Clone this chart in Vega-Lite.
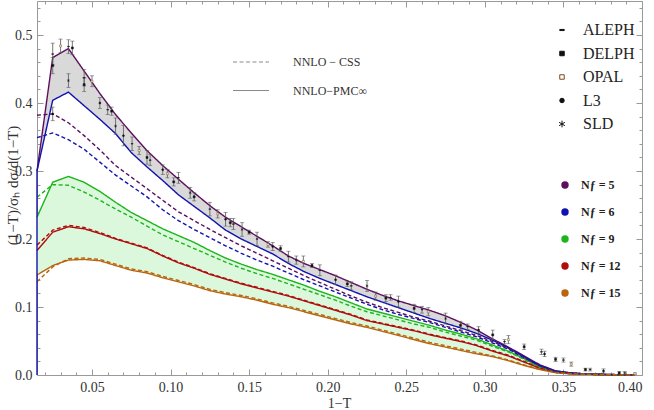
{
  "$schema": "https://vega.github.io/schema/vega-lite/v6.json",
  "width": 605,
  "height": 374,
  "autosize": {"type": "none"},
  "padding": {"left": 37, "top": 1, "right": 12, "bottom": 35},
  "background": "white",
  "datasets": {
    "curves": [
      {"x": 0.015, "scheme": "NNLO−PMC∞", "n5": 0.300, "n6": 0.300, "n9": 0.232, "n12": 0.183, "n15": 0.147},
      {"x": 0.025, "scheme": "NNLO−PMC∞", "n5": 0.467, "n6": 0.404, "n9": 0.2835, "n12": 0.210, "n15": 0.161},
      {"x": 0.035, "scheme": "NNLO−PMC∞", "n5": 0.480, "n6": 0.416, "n9": 0.292, "n12": 0.218, "n15": 0.169},
      {"x": 0.045, "scheme": "NNLO−PMC∞", "n5": 0.447, "n6": 0.396, "n9": 0.2835, "n12": 0.215, "n15": 0.170},
      {"x": 0.055, "scheme": "NNLO−PMC∞", "n5": 0.414, "n6": 0.376, "n9": 0.270, "n12": 0.208, "n15": 0.168},
      {"x": 0.065, "scheme": "NNLO−PMC∞", "n5": 0.383, "n6": 0.355, "n9": 0.254, "n12": 0.200, "n15": 0.161},
      {"x": 0.075, "scheme": "NNLO−PMC∞", "n5": 0.356, "n6": 0.327, "n9": 0.239, "n12": 0.193, "n15": 0.154},
      {"x": 0.085, "scheme": "NNLO−PMC∞", "n5": 0.330, "n6": 0.306, "n9": 0.227, "n12": 0.186, "n15": 0.150},
      {"x": 0.095, "scheme": "NNLO−PMC∞", "n5": 0.308, "n6": 0.286, "n9": 0.215, "n12": 0.175, "n15": 0.143},
      {"x": 0.105, "scheme": "NNLO−PMC∞", "n5": 0.288, "n6": 0.265, "n9": 0.205, "n12": 0.165, "n15": 0.137},
      {"x": 0.115, "scheme": "NNLO−PMC∞", "n5": 0.268, "n6": 0.248, "n9": 0.195, "n12": 0.157, "n15": 0.131},
      {"x": 0.125, "scheme": "NNLO−PMC∞", "n5": 0.249, "n6": 0.231, "n9": 0.183, "n12": 0.148, "n15": 0.124},
      {"x": 0.135, "scheme": "NNLO−PMC∞", "n5": 0.232, "n6": 0.213, "n9": 0.172, "n12": 0.141, "n15": 0.119},
      {"x": 0.145, "scheme": "NNLO−PMC∞", "n5": 0.218, "n6": 0.200, "n9": 0.163, "n12": 0.134, "n15": 0.115},
      {"x": 0.155, "scheme": "NNLO−PMC∞", "n5": 0.204, "n6": 0.189, "n9": 0.155, "n12": 0.128, "n15": 0.110},
      {"x": 0.165, "scheme": "NNLO−PMC∞", "n5": 0.190, "n6": 0.178, "n9": 0.148, "n12": 0.122, "n15": 0.104},
      {"x": 0.175, "scheme": "NNLO−PMC∞", "n5": 0.175, "n6": 0.164, "n9": 0.140, "n12": 0.116, "n15": 0.099},
      {"x": 0.185, "scheme": "NNLO−PMC∞", "n5": 0.164, "n6": 0.152, "n9": 0.132, "n12": 0.109, "n15": 0.093},
      {"x": 0.195, "scheme": "NNLO−PMC∞", "n5": 0.155, "n6": 0.142, "n9": 0.123, "n12": 0.102, "n15": 0.087},
      {"x": 0.205, "scheme": "NNLO−PMC∞", "n5": 0.146, "n6": 0.133, "n9": 0.115, "n12": 0.095, "n15": 0.081},
      {"x": 0.215, "scheme": "NNLO−PMC∞", "n5": 0.136, "n6": 0.124, "n9": 0.106, "n12": 0.088, "n15": 0.075},
      {"x": 0.225, "scheme": "NNLO−PMC∞", "n5": 0.126, "n6": 0.115, "n9": 0.097, "n12": 0.080, "n15": 0.070},
      {"x": 0.235, "scheme": "NNLO−PMC∞", "n5": 0.117, "n6": 0.107, "n9": 0.091, "n12": 0.075, "n15": 0.064},
      {"x": 0.245, "scheme": "NNLO−PMC∞", "n5": 0.109, "n6": 0.099, "n9": 0.085, "n12": 0.070, "n15": 0.058},
      {"x": 0.255, "scheme": "NNLO−PMC∞", "n5": 0.102, "n6": 0.091, "n9": 0.079, "n12": 0.065, "n15": 0.052},
      {"x": 0.265, "scheme": "NNLO−PMC∞", "n5": 0.095, "n6": 0.083, "n9": 0.073, "n12": 0.059, "n15": 0.046},
      {"x": 0.275, "scheme": "NNLO−PMC∞", "n5": 0.087, "n6": 0.076, "n9": 0.066, "n12": 0.054, "n15": 0.041},
      {"x": 0.285, "scheme": "NNLO−PMC∞", "n5": 0.077, "n6": 0.069, "n9": 0.060, "n12": 0.049, "n15": 0.036},
      {"x": 0.295, "scheme": "NNLO−PMC∞", "n5": 0.066, "n6": 0.061, "n9": 0.053, "n12": 0.043, "n15": 0.031},
      {"x": 0.305, "scheme": "NNLO−PMC∞", "n5": 0.053, "n6": 0.051, "n9": 0.044, "n12": 0.035, "n15": 0.027},
      {"x": 0.315, "scheme": "NNLO−PMC∞", "n5": 0.041, "n6": 0.040, "n9": 0.035, "n12": 0.028, "n15": 0.021},
      {"x": 0.325, "scheme": "NNLO−PMC∞", "n5": 0.028, "n6": 0.027, "n9": 0.024, "n12": 0.019, "n15": 0.014},
      {"x": 0.335, "scheme": "NNLO−PMC∞", "n5": 0.015, "n6": 0.014, "n9": 0.012, "n12": 0.010, "n15": 0.008},
      {"x": 0.345, "scheme": "NNLO−PMC∞", "n5": 0.006, "n6": 0.006, "n9": 0.0045, "n12": 0.004, "n15": 0.0035},
      {"x": 0.355, "scheme": "NNLO−PMC∞", "n5": 0.003, "n6": 0.003, "n9": 0.002, "n12": 0.002, "n15": 0.0015},
      {"x": 0.365, "scheme": "NNLO−PMC∞", "n5": 0.0015, "n6": 0.0015, "n9": 0.001, "n12": 0.001, "n15": 0.001},
      {"x": 0.375, "scheme": "NNLO−PMC∞", "n5": 0.001, "n6": 0.001, "n9": 0.0007, "n12": 0.0006, "n15": 0.0005},
      {"x": 0.385, "scheme": "NNLO−PMC∞", "n5": 0.0005, "n6": 0.0005, "n9": 0.0004, "n12": 0.0003, "n15": 0.0003},
      {"x": 0.395, "scheme": "NNLO−PMC∞", "n5": 0.0002, "n6": 0.0002, "n9": 0.0002, "n12": 0.0001, "n15": 0.0001},
      {"x": 0.015, "scheme": "NNLO − CSS", "n5": 0.382, "n6": 0.349, "n9": 0.2615, "n12": 0.191, "n15": 0.137},
      {"x": 0.025, "scheme": "NNLO − CSS", "n5": 0.384, "n6": 0.356, "n9": 0.280, "n12": 0.213, "n15": 0.159},
      {"x": 0.035, "scheme": "NNLO − CSS", "n5": 0.371, "n6": 0.346, "n9": 0.279, "n12": 0.220, "n15": 0.171},
      {"x": 0.045, "scheme": "NNLO − CSS", "n5": 0.352, "n6": 0.332, "n9": 0.269, "n12": 0.217, "n15": 0.172},
      {"x": 0.055, "scheme": "NNLO − CSS", "n5": 0.331, "n6": 0.313, "n9": 0.257, "n12": 0.2095, "n15": 0.170},
      {"x": 0.065, "scheme": "NNLO − CSS", "n5": 0.308, "n6": 0.294, "n9": 0.244, "n12": 0.201, "n15": 0.163},
      {"x": 0.075, "scheme": "NNLO − CSS", "n5": 0.291, "n6": 0.278, "n9": 0.232, "n12": 0.194, "n15": 0.156},
      {"x": 0.085, "scheme": "NNLO − CSS", "n5": 0.274, "n6": 0.262, "n9": 0.219, "n12": 0.187, "n15": 0.152},
      {"x": 0.095, "scheme": "NNLO − CSS", "n5": 0.257, "n6": 0.243, "n9": 0.206, "n12": 0.176, "n15": 0.145},
      {"x": 0.105, "scheme": "NNLO − CSS", "n5": 0.240, "n6": 0.227, "n9": 0.196, "n12": 0.166, "n15": 0.139},
      {"x": 0.115, "scheme": "NNLO − CSS", "n5": 0.227, "n6": 0.214, "n9": 0.186, "n12": 0.158, "n15": 0.133},
      {"x": 0.125, "scheme": "NNLO − CSS", "n5": 0.214, "n6": 0.202, "n9": 0.176, "n12": 0.149, "n15": 0.126},
      {"x": 0.135, "scheme": "NNLO − CSS", "n5": 0.202, "n6": 0.190, "n9": 0.166, "n12": 0.142, "n15": 0.121},
      {"x": 0.145, "scheme": "NNLO − CSS", "n5": 0.190, "n6": 0.179, "n9": 0.157, "n12": 0.135, "n15": 0.117},
      {"x": 0.155, "scheme": "NNLO − CSS", "n5": 0.179, "n6": 0.169, "n9": 0.149, "n12": 0.129, "n15": 0.112},
      {"x": 0.165, "scheme": "NNLO − CSS", "n5": 0.168, "n6": 0.160, "n9": 0.142, "n12": 0.123, "n15": 0.106},
      {"x": 0.175, "scheme": "NNLO − CSS", "n5": 0.157, "n6": 0.150, "n9": 0.134, "n12": 0.117, "n15": 0.101},
      {"x": 0.185, "scheme": "NNLO − CSS", "n5": 0.146, "n6": 0.140, "n9": 0.126, "n12": 0.110, "n15": 0.095},
      {"x": 0.195, "scheme": "NNLO − CSS", "n5": 0.136, "n6": 0.131, "n9": 0.118, "n12": 0.103, "n15": 0.089},
      {"x": 0.205, "scheme": "NNLO − CSS", "n5": 0.126, "n6": 0.122, "n9": 0.110, "n12": 0.096, "n15": 0.083},
      {"x": 0.215, "scheme": "NNLO − CSS", "n5": 0.116, "n6": 0.113, "n9": 0.101, "n12": 0.089, "n15": 0.077},
      {"x": 0.225, "scheme": "NNLO − CSS", "n5": 0.107, "n6": 0.104, "n9": 0.093, "n12": 0.081, "n15": 0.072},
      {"x": 0.235, "scheme": "NNLO − CSS", "n5": 0.099, "n6": 0.096, "n9": 0.087, "n12": 0.076, "n15": 0.066},
      {"x": 0.245, "scheme": "NNLO − CSS", "n5": 0.092, "n6": 0.089, "n9": 0.081, "n12": 0.071, "n15": 0.060},
      {"x": 0.255, "scheme": "NNLO − CSS", "n5": 0.085, "n6": 0.083, "n9": 0.075, "n12": 0.066, "n15": 0.054},
      {"x": 0.265, "scheme": "NNLO − CSS", "n5": 0.079, "n6": 0.077, "n9": 0.070, "n12": 0.060, "n15": 0.048},
      {"x": 0.275, "scheme": "NNLO − CSS", "n5": 0.072, "n6": 0.070, "n9": 0.063, "n12": 0.055, "n15": 0.043},
      {"x": 0.285, "scheme": "NNLO − CSS", "n5": 0.065, "n6": 0.063, "n9": 0.057, "n12": 0.050, "n15": 0.038},
      {"x": 0.295, "scheme": "NNLO − CSS", "n5": 0.058, "n6": 0.056, "n9": 0.051, "n12": 0.044, "n15": 0.033},
      {"x": 0.305, "scheme": "NNLO − CSS", "n5": 0.049, "n6": 0.047, "n9": 0.042, "n12": 0.036, "n15": 0.028},
      {"x": 0.315, "scheme": "NNLO − CSS", "n5": 0.039, "n6": 0.038, "n9": 0.034, "n12": 0.029, "n15": 0.022},
      {"x": 0.325, "scheme": "NNLO − CSS", "n5": 0.026, "n6": 0.025, "n9": 0.023, "n12": 0.020, "n15": 0.015},
      {"x": 0.335, "scheme": "NNLO − CSS", "n5": 0.013, "n6": 0.013, "n9": 0.011, "n12": 0.010, "n15": 0.008},
      {"x": 0.345, "scheme": "NNLO − CSS", "n5": 0.005, "n6": 0.005, "n9": 0.004, "n12": 0.004, "n15": 0.0035},
      {"x": 0.355, "scheme": "NNLO − CSS", "n5": 0.0025, "n6": 0.0025, "n9": 0.002, "n12": 0.002, "n15": 0.0015},
      {"x": 0.365, "scheme": "NNLO − CSS", "n5": 0.0012, "n6": 0.0012, "n9": 0.001, "n12": 0.001, "n15": 0.001},
      {"x": 0.375, "scheme": "NNLO − CSS", "n5": 0.0007, "n6": 0.0007, "n9": 0.0006, "n12": 0.0006, "n15": 0.0005},
      {"x": 0.385, "scheme": "NNLO − CSS", "n5": 0.0003, "n6": 0.0003, "n9": 0.0003, "n12": 0.0003, "n15": 0.0003},
      {"x": 0.395, "scheme": "NNLO − CSS", "n5": 0.0001, "n6": 0.0001, "n9": 0.0001, "n12": 0.0001, "n15": 0.0001}
    ],
    "edge": [
      {"x": 0.015, "lo": 0, "hi": 0.30}
    ],
    "exp": [
      {"exp": "ALEPH", "x": 0.025, "y": 0.472, "lo": 0.456, "hi": 0.488},
      {"exp": "DELPH", "x": 0.025, "y": 0.455, "lo": 0.443, "hi": 0.467},
      {"exp": "L3", "x": 0.025, "y": 0.384, "lo": 0.374, "hi": 0.394},
      {"exp": "OPAL", "x": 0.030, "y": 0.484, "lo": 0.474, "hi": 0.494},
      {"exp": "ALEPH", "x": 0.035, "y": 0.483, "lo": 0.473, "hi": 0.493},
      {"exp": "DELPH", "x": 0.0375, "y": 0.481, "lo": 0.471, "hi": 0.491},
      {"exp": "SLD", "x": 0.035, "y": 0.433, "lo": 0.423, "hi": 0.443},
      {"exp": "ALEPH", "x": 0.045, "y": 0.437, "lo": 0.425, "hi": 0.449},
      {"exp": "DELPH", "x": 0.045, "y": 0.427, "lo": 0.417, "hi": 0.437},
      {"exp": "OPAL", "x": 0.050, "y": 0.432, "lo": 0.424, "hi": 0.440},
      {"exp": "L3", "x": 0.055, "y": 0.400, "lo": 0.392, "hi": 0.408},
      {"exp": "ALEPH", "x": 0.060, "y": 0.390, "lo": 0.383, "hi": 0.397},
      {"exp": "DELPH", "x": 0.0625, "y": 0.388, "lo": 0.382, "hi": 0.394},
      {"exp": "SLD", "x": 0.065, "y": 0.366, "lo": 0.354, "hi": 0.378},
      {"exp": "L3", "x": 0.070, "y": 0.352, "lo": 0.337, "hi": 0.367},
      {"exp": "ALEPH", "x": 0.0755, "y": 0.340, "lo": 0.330, "hi": 0.350},
      {"exp": "OPAL", "x": 0.080, "y": 0.330, "lo": 0.324, "hi": 0.336},
      {"exp": "DELPH", "x": 0.085, "y": 0.320, "lo": 0.310, "hi": 0.330},
      {"exp": "ALEPH", "x": 0.087, "y": 0.316, "lo": 0.308, "hi": 0.324},
      {"exp": "L3", "x": 0.095, "y": 0.302, "lo": 0.295, "hi": 0.309},
      {"exp": "OPAL", "x": 0.098, "y": 0.296, "lo": 0.290, "hi": 0.302},
      {"exp": "DELPH", "x": 0.102, "y": 0.284, "lo": 0.278, "hi": 0.290},
      {"exp": "ALEPH", "x": 0.105, "y": 0.290, "lo": 0.282, "hi": 0.298},
      {"exp": "SLD", "x": 0.1125, "y": 0.268, "lo": 0.260, "hi": 0.276},
      {"exp": "DELPH", "x": 0.115, "y": 0.262, "lo": 0.256, "hi": 0.268},
      {"exp": "ALEPH", "x": 0.125, "y": 0.244, "lo": 0.234, "hi": 0.254},
      {"exp": "OPAL", "x": 0.130, "y": 0.237, "lo": 0.231, "hi": 0.243},
      {"exp": "L3", "x": 0.135, "y": 0.229, "lo": 0.219, "hi": 0.239},
      {"exp": "DELPH", "x": 0.138, "y": 0.224, "lo": 0.218, "hi": 0.230},
      {"exp": "ALEPH", "x": 0.140, "y": 0.222, "lo": 0.214, "hi": 0.230},
      {"exp": "SLD", "x": 0.1455, "y": 0.214, "lo": 0.204, "hi": 0.224},
      {"exp": "DELPH", "x": 0.150, "y": 0.210, "lo": 0.207, "hi": 0.213},
      {"exp": "ALEPH", "x": 0.155, "y": 0.200, "lo": 0.190, "hi": 0.210},
      {"exp": "OPAL", "x": 0.162, "y": 0.192, "lo": 0.188, "hi": 0.196},
      {"exp": "L3", "x": 0.165, "y": 0.189, "lo": 0.183, "hi": 0.195},
      {"exp": "DELPH", "x": 0.170, "y": 0.186, "lo": 0.182, "hi": 0.190},
      {"exp": "ALEPH", "x": 0.175, "y": 0.174, "lo": 0.166, "hi": 0.182},
      {"exp": "SLD", "x": 0.180, "y": 0.169, "lo": 0.163, "hi": 0.175},
      {"exp": "OPAL", "x": 0.1845, "y": 0.167, "lo": 0.159, "hi": 0.175},
      {"exp": "DELPH", "x": 0.190, "y": 0.161, "lo": 0.158, "hi": 0.164},
      {"exp": "ALEPH", "x": 0.195, "y": 0.154, "lo": 0.146, "hi": 0.162},
      {"exp": "L3", "x": 0.205, "y": 0.140, "lo": 0.133, "hi": 0.147},
      {"exp": "DELPH", "x": 0.2125, "y": 0.134, "lo": 0.130, "hi": 0.138},
      {"exp": "ALEPH", "x": 0.215, "y": 0.131, "lo": 0.125, "hi": 0.137},
      {"exp": "SLD", "x": 0.225, "y": 0.131, "lo": 0.123, "hi": 0.139},
      {"exp": "OPAL", "x": 0.2305, "y": 0.116, "lo": 0.110, "hi": 0.122},
      {"exp": "DELPH", "x": 0.237, "y": 0.113, "lo": 0.108, "hi": 0.118},
      {"exp": "ALEPH", "x": 0.240, "y": 0.114, "lo": 0.110, "hi": 0.118},
      {"exp": "L3", "x": 0.245, "y": 0.108, "lo": 0.100, "hi": 0.116},
      {"exp": "DELPH", "x": 0.255, "y": 0.098, "lo": 0.092, "hi": 0.104},
      {"exp": "ALEPH", "x": 0.260, "y": 0.096, "lo": 0.091, "hi": 0.101},
      {"exp": "OPAL", "x": 0.264, "y": 0.093, "lo": 0.087, "hi": 0.099},
      {"exp": "SLD", "x": 0.275, "y": 0.083, "lo": 0.075, "hi": 0.091},
      {"exp": "DELPH", "x": 0.2845, "y": 0.073, "lo": 0.067, "hi": 0.079},
      {"exp": "ALEPH", "x": 0.289, "y": 0.071, "lo": 0.067, "hi": 0.075},
      {"exp": "L3", "x": 0.296, "y": 0.066, "lo": 0.061, "hi": 0.071},
      {"exp": "DELPH", "x": 0.305, "y": 0.059, "lo": 0.052, "hi": 0.066},
      {"exp": "ALEPH", "x": 0.3125, "y": 0.049, "lo": 0.046, "hi": 0.052},
      {"exp": "OPAL", "x": 0.315, "y": 0.052, "lo": 0.046, "hi": 0.058},
      {"exp": "DELPH", "x": 0.325, "y": 0.0415, "lo": 0.0375, "hi": 0.0455},
      {"exp": "ALEPH", "x": 0.336, "y": 0.034, "lo": 0.030, "hi": 0.038},
      {"exp": "L3", "x": 0.338, "y": 0.031, "lo": 0.027, "hi": 0.035},
      {"exp": "DELPH", "x": 0.345, "y": 0.023, "lo": 0.020, "hi": 0.026},
      {"exp": "ALEPH", "x": 0.350, "y": 0.022, "lo": 0.019, "hi": 0.025},
      {"exp": "OPAL", "x": 0.355, "y": 0.016, "lo": 0.013, "hi": 0.019},
      {"exp": "DELPH", "x": 0.364, "y": 0.008, "lo": 0.006, "hi": 0.010},
      {"exp": "ALEPH", "x": 0.367, "y": 0.008, "lo": 0.006, "hi": 0.010},
      {"exp": "L3", "x": 0.3755, "y": 0.006, "lo": 0.003, "hi": 0.009},
      {"exp": "DELPH", "x": 0.3855, "y": 0.003, "lo": 0.001, "hi": 0.005},
      {"exp": "ALEPH", "x": 0.389, "y": 0.003, "lo": 0.001, "hi": 0.005},
      {"exp": "OPAL", "x": 0.3955, "y": 0.002, "lo": 0.001, "hi": 0.003}
    ]
  },
  "resolve": {"axis": {"x": "independent", "y": "independent"}},
  "layer": [
    {
      "data": {"name": "curves"},
      "transform": [{"filter": {"field": "scheme", "equal": "NNLO−PMC∞"}}],
      "mark": {"type": "area", "color": "#dcf8dc", "opacity": 1},
      "encoding": {
        "x": {
          "field": "x", "type": "quantitative",
          "scale": {"domain": [0.015, 0.40], "nice": false, "zero": false},
          "axis": {
            "orient": "bottom", "values": [0.05, 0.10, 0.15, 0.20, 0.25, 0.30, 0.35, 0.40],
            "format": ".2f", "offset": -6, "tickSize": 6, "labelPadding": 5,
            "title": "1−T", "titleX": 302, "titleY": 34, "titleBaseline": "middle", "titleFontSize": 14
          }
        },
        "y": {
          "field": "n9", "type": "quantitative",
          "scale": {"domain": [0, 0.55], "nice": false},
          "axis": {
            "orient": "left", "values": [0, 0.1, 0.2, 0.3, 0.4, 0.5],
            "format": ".1f", "offset": -6, "tickSize": 6, "labelPadding": 5,
            "title": "(1−T)/σₕ dσ/d(1−T)", "titleX": -31, "titleY": 184,
            "titleBaseline": "middle", "titleAngle": -90
          }
        },
        "y2": {"field": "n15"}
      }
    },
    {
      "data": {"name": "curves"},
      "transform": [{"filter": {"field": "scheme", "equal": "NNLO−PMC∞"}}],
      "mark": {"type": "area", "color": "#d9d9d9", "opacity": 1},
      "encoding": {
        "x": {
          "field": "x", "type": "quantitative",
          "axis": {"orient": "top", "values": [0.05, 0.10, 0.15, 0.20, 0.25, 0.30, 0.35, 0.40], "labels": false, "offset": -6, "tickSize": 6, "title": null}
        },
        "y": {
          "field": "n5", "type": "quantitative",
          "axis": {"orient": "right", "values": [0, 0.1, 0.2, 0.3, 0.4, 0.5], "labels": false, "offset": -6, "tickSize": 6, "title": null}
        },
        "y2": {"field": "n6"}
      }
    },
    {
      "data": {"name": "curves"},
      "transform": [{"fold": ["n5", "n6", "n9", "n12", "n15"], "as": ["nf", "v"]}],
      "mark": {"type": "line", "strokeWidth": 1.4},
      "encoding": {
        "x": {
          "field": "x", "type": "quantitative",
          "axis": {
            "orient": "bottom", "labels": false, "offset": -3, "tickSize": 3, "title": null,
            "values": [0.02, 0.03, 0.04, 0.06, 0.07, 0.08, 0.09, 0.11, 0.12, 0.13, 0.14, 0.16, 0.17, 0.18, 0.19, 0.21, 0.22, 0.23, 0.24, 0.26, 0.27, 0.28, 0.29, 0.31, 0.32, 0.33, 0.34, 0.36, 0.37, 0.38, 0.39]
          }
        },
        "y": {
          "field": "v", "type": "quantitative",
          "axis": {
            "orient": "left", "labels": false, "offset": -3, "tickSize": 3, "title": null,
            "values": [0.02, 0.04, 0.06, 0.08, 0.12, 0.14, 0.16, 0.18, 0.22, 0.24, 0.26, 0.28, 0.32, 0.34, 0.36, 0.38, 0.42, 0.44, 0.46, 0.48, 0.52, 0.54]
          }
        },
        "color": {
          "field": "nf", "type": "nominal",
          "scale": {
            "domain": ["n5", "n6", "n9", "n12", "n15"],
            "range": ["#5d0f5e", "#1212b0", "#1cb41c", "#b00e0e", "#b9640f"]
          },
          "legend": {
            "orient": "none", "legendX": 522, "legendY": 178, "title": null,
            "symbolType": "circle", "symbolSize": 55, "symbolStrokeWidth": 0,
            "labelOffset": 10, "rowPadding": 15, "padding": 0,
            "labelFont": "Liberation Serif", "labelFontSize": 12, "labelFontWeight": "bold", "labelColor": "#222",
            "labelExpr": "'Nƒ = ' + slice(datum.label, 1)",
            "encode": {"symbols": {"update": {"fill": {"scale": "color", "field": "value"}, "opacity": {"value": 1}}}}
          }
        },
        "strokeDash": {
          "field": "scheme", "type": "nominal",
          "scale": {"domain": ["NNLO − CSS", "NNLO−PMC∞"], "range": [[4, 2.5], [1, 0]]},
          "legend": {
            "orient": "none", "legendX": 195, "legendY": 42, "title": null,
            "symbolType": "stroke", "symbolSize": 1296, "symbolStrokeColor": "#8a8a8a", "symbolStrokeWidth": 1.2,
            "labelOffset": 23, "rowPadding": 3.5, "padding": 0,
            "labelFont": "Liberation Serif", "labelFontSize": 12, "labelColor": "#333"
          }
        }
      }
    },
    {
      "data": {"name": "edge"},
      "mark": {"type": "rule", "color": "#1212b0", "strokeWidth": 1.4},
      "encoding": {
        "x": {
          "field": "x", "type": "quantitative",
          "axis": {
            "orient": "top", "labels": false, "offset": -3, "tickSize": 3, "title": null,
            "values": [0.02, 0.03, 0.04, 0.06, 0.07, 0.08, 0.09, 0.11, 0.12, 0.13, 0.14, 0.16, 0.17, 0.18, 0.19, 0.21, 0.22, 0.23, 0.24, 0.26, 0.27, 0.28, 0.29, 0.31, 0.32, 0.33, 0.34, 0.36, 0.37, 0.38, 0.39]
          }
        },
        "y": {
          "field": "lo", "type": "quantitative",
          "axis": {
            "orient": "right", "labels": false, "offset": -3, "tickSize": 3, "title": null,
            "values": [0.02, 0.04, 0.06, 0.08, 0.12, 0.14, 0.16, 0.18, 0.22, 0.24, 0.26, 0.28, 0.32, 0.34, 0.36, 0.38, 0.42, 0.44, 0.46, 0.48, 0.52, 0.54]
          }
        },
        "y2": {"field": "hi"}
      }
    },
    {
      "data": {"name": "exp"},
      "mark": {"type": "errorbar", "color": "#555555", "thickness": 0.8, "ticks": {"size": 4, "color": "#555555"}},
      "encoding": {
        "x": {"field": "x", "type": "quantitative", "axis": null},
        "y": {"field": "lo", "type": "quantitative", "axis": null},
        "y2": {"field": "hi"}
      }
    },
    {
      "data": {"name": "exp"},
      "mark": {"type": "point", "filled": true, "size": 4, "strokeWidth": 0.5, "opacity": 1},
      "encoding": {
        "x": {"field": "x", "type": "quantitative", "axis": null},
        "y": {"field": "y", "type": "quantitative", "axis": null},
        "shape": {
          "field": "exp", "type": "nominal",
          "scale": {
            "domain": ["ALEPH", "DELPH", "OPAL", "L3", "SLD"],
            "range": ["M-1,-0.25H1V0.25H-1Z", "square", "square", "circle", "M0,-1.5V1.5M-1.3,-0.75L1.3,0.75M-1.3,0.75L1.3,-0.75"]
          },
          "legend": {
            "orient": "none", "legendX": 517, "legendY": 21, "title": null,
            "symbolSize": 20, "symbolStrokeWidth": 1,
            "labelOffset": 13, "rowPadding": 7.5, "padding": 0,
            "labelFont": "Liberation Serif", "labelFontSize": 16, "labelColor": "#222"
          }
        },
        "fill": {
          "field": "exp", "type": "nominal",
          "scale": {"domain": ["ALEPH", "DELPH", "OPAL", "L3", "SLD"], "range": ["#111111", "#111111", "#ffffff", "#111111", "#111111"]},
          "legend": {
            "orient": "none", "legendX": 517, "legendY": 21, "title": null,
            "symbolSize": 20, "symbolStrokeWidth": 1,
            "labelOffset": 13, "rowPadding": 7.5, "padding": 0,
            "labelFont": "Liberation Serif", "labelFontSize": 16, "labelColor": "#222"
          }
        },
        "stroke": {
          "field": "exp", "type": "nominal",
          "scale": {"domain": ["ALEPH", "DELPH", "OPAL", "L3", "SLD"], "range": ["#111111", "#111111", "#7a4a1a", "#111111", "#111111"]},
          "legend": {
            "orient": "none", "legendX": 517, "legendY": 21, "title": null,
            "symbolSize": 20, "symbolStrokeWidth": 1,
            "labelOffset": 13, "rowPadding": 7.5, "padding": 0,
            "labelFont": "Liberation Serif", "labelFontSize": 16, "labelColor": "#222"
          }
        }
      }
    }
  ],
  "config": {
    "font": "Liberation Serif",
    "view": {"stroke": "#999999", "strokeWidth": 1},
    "axis": {
      "domain": false, "grid": false, "zindex": 1,
      "labelFont": "Liberation Serif", "labelFontSize": 14, "labelColor": "#333333",
      "tickColor": "#999999", "tickWidth": 1,
      "titleFont": "Liberation Serif", "titleFontSize": 15, "titleFontWeight": "normal", "titleColor": "#333333"
    }
  }
}
